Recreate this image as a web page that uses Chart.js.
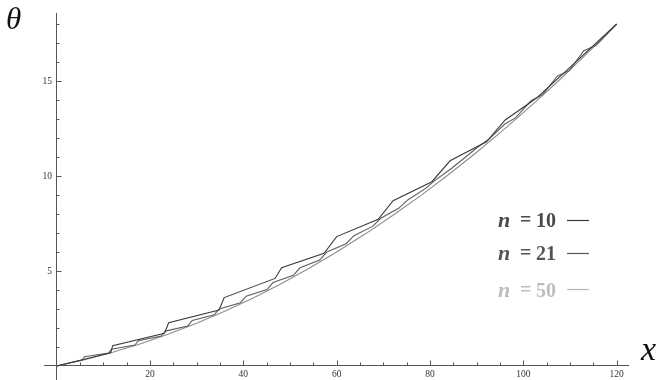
<!DOCTYPE html>
<html>
<head>
<meta charset="utf-8">
<script src="https://cdn.jsdelivr.net/npm/chart.js"></script>
<style>
html,body{margin:0;padding:0;background:#fff;}
canvas{display:block;}
</style>
</head>
<body>
<canvas id="c" width="657" height="380"></canvas>
<script>
// ---- data ----
const n10X = [0, 11.6, 12.0, 23.1, 24.0, 34.8, 35.9, 46.8, 48.2, 57.3, 60.0, 68.9, 72.1, 80.4, 84.3, 92.1, 96.1, 101.4, 102.8, 108.6, 120];
const n10Y = [0, 0.70, 1.07, 1.72, 2.28, 2.95, 3.60, 4.61, 5.17, 5.93, 6.81, 7.72, 8.70, 9.70, 10.80, 11.80, 12.95, 13.86, 14.10, 15.40, 18.0];

const n21X = [0, 5.46, 5.97, 11.12, 11.74, 16.77, 17.51, 22.43, 23.29, 28.09, 29.06, 33.75, 34.83, 39.4, 40.6, 45.05, 46.37, 50.72, 52.14, 56.37, 57.91, 62.03, 63.69, 67.69, 69.46, 73.35, 75.23, 79.0, 81.0, 84.65, 86.77, 90.32, 92.54, 95.97, 98.31, 101.63, 104.09, 107.28, 109.86, 112.95, 115.63, 120];
const n21Y = [0, 0.313, 0.49, 0.68, 0.884, 1.102, 1.333, 1.578, 1.837, 2.109, 2.394, 2.694, 3.007, 3.333, 3.674, 4.027, 4.394, 4.776, 5.17, 5.578, 6.0, 6.436, 6.86, 7.347, 7.775, 8.313, 8.74, 9.333, 9.76, 10.408, 10.83, 11.537, 11.92, 12.721, 13.06, 13.959, 14.28, 15.252, 15.55, 16.599, 16.88, 18.0];

const n50X = [0, 6, 12, 18, 24, 30, 36, 42, 48, 54, 60, 66, 72, 78, 84, 90, 96, 102, 108, 114, 120];
const n50Y = [0, 0.33, 0.72, 1.17, 1.68, 2.25, 2.88, 3.57, 4.32, 5.13, 6.0, 6.93, 7.92, 8.97, 10.08, 11.25, 12.48, 13.77, 15.12, 16.53, 18.0];

const seriesNames = ['10', '21', '50'];
const xTickLabels = [20, 40, 60, 80, 100, 120];
const xMinorTicks = [5, 10, 15, 25, 30, 35, 45, 50, 55, 65, 70, 75, 85, 90, 95, 105, 110, 115];
const yTickLabels = [5, 10, 15];
const yMinorTicks = [1, 2, 3, 4, 6, 7, 8, 9, 11, 12, 13, 14, 16, 17, 18];
const xAxisTitle = 'x';
const yAxisTitle = 'θ';

// ---- styles ----
const lineColors = ['#3a3a3a', '#5e5e5e', '#8c8c8c'];
const legendLineColors = ['#3a3a3a', '#555555', '#b5b5b5'];
const textColors = ['#4a4a4a', '#555555', '#bdbdbd'];

function pts(xs, ys) { return xs.map((x, i) => ({x: x, y: ys[i]})); }

const axesPlugin = {
  id: 'mmaAxes',
  beforeDatasetsDraw(chart) {
    const ctx = chart.ctx, xs = chart.scales.x, ys = chart.scales.y;
    const x0 = Math.floor(xs.getPixelForValue(0)) + 0.5;
    const y0 = Math.floor(ys.getPixelForValue(0)) + 0.5;
    ctx.save();
    ctx.strokeStyle = '#555';
    ctx.lineWidth = 1;
    ctx.beginPath();
    ctx.moveTo(xs.left, y0); ctx.lineTo(xs.right, y0);
    ctx.moveTo(x0, ys.top); ctx.lineTo(x0, ys.bottom);
    xTickLabels.forEach(v => { const p = Math.round(xs.getPixelForValue(v)) + 0.5; ctx.moveTo(p, y0); ctx.lineTo(p, y0 - 5); });
    xMinorTicks.forEach(v => { const p = Math.round(xs.getPixelForValue(v)) + 0.5; ctx.moveTo(p, y0); ctx.lineTo(p, y0 - 3); });
    yTickLabels.forEach(v => { const p = Math.round(ys.getPixelForValue(v)) + 0.5; ctx.moveTo(x0, p); ctx.lineTo(x0 + 5, p); });
    yMinorTicks.forEach(v => { const p = Math.round(ys.getPixelForValue(v)) + 0.5; ctx.moveTo(x0, p); ctx.lineTo(x0 + 3, p); });
    ctx.stroke();
    ctx.fillStyle = '#333';
    ctx.font = '9.5px "Liberation Serif", serif';
    ctx.textAlign = 'center'; ctx.textBaseline = 'middle';
    xTickLabels.forEach(v => ctx.fillText(String(v), xs.getPixelForValue(v), y0 + 8.5));
    ctx.textAlign = 'right';
    yTickLabels.forEach(v => ctx.fillText(String(v), x0 - 4.5, ys.getPixelForValue(v)));
    ctx.restore();
  },
  afterDraw(chart) {
    const ctx = chart.ctx;
    ctx.save();
    ctx.fillStyle = '#111';
    ctx.textBaseline = 'alphabetic';
    ctx.textAlign = 'left';
    ctx.font = 'italic 31px "Liberation Serif", serif';
    ctx.fillText(yAxisTitle, 6, 29);
    ctx.font = 'italic 34px "Liberation Serif", serif';
    ctx.fillText(xAxisTitle, 641, 360);
    const baselines = [227, 260, 297];
    const lineYs = [220.5, 253.5, 289.5];
    chart.data.datasets.forEach((ds, i) => {
      const by = baselines[i];
      ctx.fillStyle = textColors[i];
      ctx.textBaseline = 'alphabetic';
      ctx.font = 'italic bold 22px "Liberation Serif", serif';
      ctx.fillText('n', 498, by);
      ctx.font = 'bold 20px "Liberation Serif", serif';
      ctx.fillText('=', 520, by - 1);
      ctx.fillText(seriesNames[i], 536, by);
      ctx.strokeStyle = legendLineColors[i];
      ctx.lineWidth = 1.2;
      ctx.beginPath();
      ctx.moveTo(567, lineYs[i]);
      ctx.lineTo(589, lineYs[i]);
      ctx.stroke();
    });
    ctx.restore();
  }
};

new Chart(document.getElementById('c'), {
  type: 'line',
  data: {
    datasets: [
      { label: 'n = ' + seriesNames[0], data: pts(n10X, n10Y), borderColor: lineColors[0], borderWidth: 1.1, pointRadius: 0, tension: 0, fill: false },
      { label: 'n = ' + seriesNames[1], data: pts(n21X, n21Y), borderColor: lineColors[1], borderWidth: 1.1, pointRadius: 0, tension: 0, fill: false },
      { label: 'n = ' + seriesNames[2], data: pts(n50X, n50Y), borderColor: lineColors[2], borderWidth: 1.1, pointRadius: 0, tension: 0, fill: false }
    ]
  },
  options: {
    responsive: false,
    animation: false,
    devicePixelRatio: 1,
    layout: { padding: { left: 44, right: 28, top: 13, bottom: 0 } },
    plugins: { legend: { display: false }, tooltip: { enabled: false } },
    scales: {
      x: { type: 'linear', min: -2.714, max: 122.64, display: false },
      y: { type: 'linear', min: -0.737, max: 18.58, display: false }
    }
  },
  plugins: [axesPlugin]
});
</script>
</body>
</html>
